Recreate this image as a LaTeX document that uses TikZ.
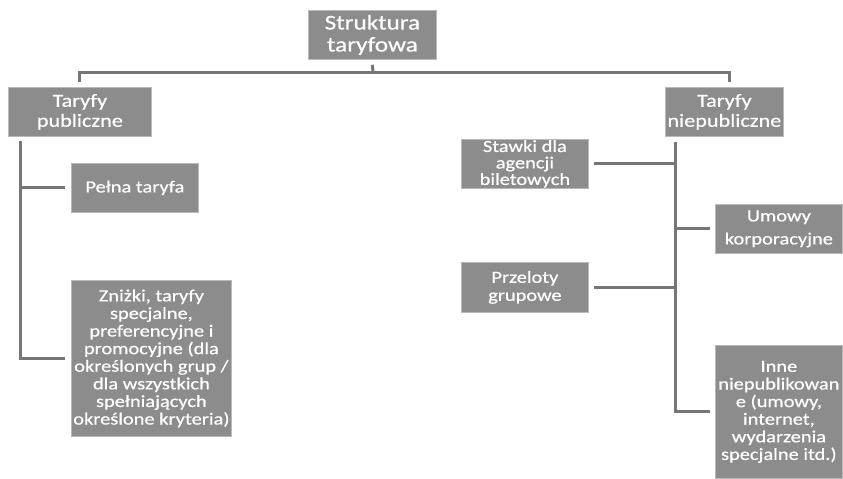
\documentclass[tikz,border=0pt]{standalone}
\usepackage{fontspec}
\setmainfont[FakeStretch=1.2, FakeBold=0.6]{Carlito}
\usetikzlibrary{positioning}
\definecolor{boxgray}{RGB}{140,140,140}
\definecolor{linegray}{RGB}{118,118,118}
\tikzset{box/.style = {fill=boxgray, draw=boxgray!60!white, line width=0.8,
                       text=white, align=center, inner sep=0, anchor=north west}}
\tikzset{link/.style = {draw=linegray, line width=3}}
\newcommand{\fs}[2]{\fontsize{#1}{#2}\selectfont}

\begin{document}
\begin{tikzpicture}[x=1pt, y=-1pt]
  \useasboundingbox (0,0) rectangle (843,479);
  % boxes
  \node [box, minimum width=128, minimum height=49, font=\fs{21}{22}] (root) at (308,10) {Struktura\\taryfowa};
  \node [box, minimum width=143, minimum height=49, font=\fs{18.5}{20}] (pub) at (8,87) {Taryfy\\publiczne};
  \node [box, minimum width=118, minimum height=49, font=\fs{18.5}{20}] (niep) at (665,87) {Taryfy\\niepubliczne};
  \node [box, minimum width=127, minimum height=49, font=\fs{17}{18}] (pelna) at (71,163) {Pełna taryfa};
  \node [box, minimum width=160, minimum height=156, font=\fs{17}{17.6}] (znizki) at (71,280)
    {Zniżki, taryfy\\specjalne,\\preferencyjne i\\promocyjne (dla\\określonych grup /\\dla wszystkich\\spełniających\\określone kryteria)};
  \node [box, minimum width=127, minimum height=49, font=\fs{17}{16.5}] (stawki) at (461,139) {Stawki dla\\agencji\\biletowych};
  \node [box, minimum width=127, minimum height=50, font=\fs{17}{18}] (przel) at (461,262) {Przeloty\\grupowe};
  \node [box, minimum width=127, minimum height=49, font=\fs{17}{23}] (umowy) at (715,204) {Umowy\\korporacyjne};
  \node [box, minimum width=127, minimum height=133, font=\fs{17}{17.6}] (inne) at (715,345)
    {Inne\\niepublikowan\\e (umowy,\\internet,\\wydarzenia\\specjalne itd.)};
  % top bar
  \coordinate (bar) at (373,72);
  \draw [link] ([yshift=-5]root.south) -- (bar);
  \draw [link] ([yshift=5]pub.north) |- (bar) -| ([xshift=5,yshift=5]niep.north);
  % left branch
  \coordinate (ltrunk) at ([xshift=12,yshift=-4]pub.south west);
  \draw [link] (ltrunk) |- ([xshift=-6]znizki.west);
  \draw [link] ([xshift=-6]pelna.west) -- (ltrunk |- pelna.west);
  % right branch
  \coordinate (rtrunk) at ([xshift=10,yshift=-5]niep.south west);
  \draw [link] (rtrunk) |- ([xshift=-5]inne.west);
  \draw [link] ([xshift=5]stawki.east) -- (rtrunk |- stawki.east);
  \draw [link] ([xshift=5]przel.east) -- (rtrunk |- przel.east);
  \draw [link] ([xshift=-5]umowy.west) -- (rtrunk |- umowy.west);
\end{tikzpicture}
\end{document}
